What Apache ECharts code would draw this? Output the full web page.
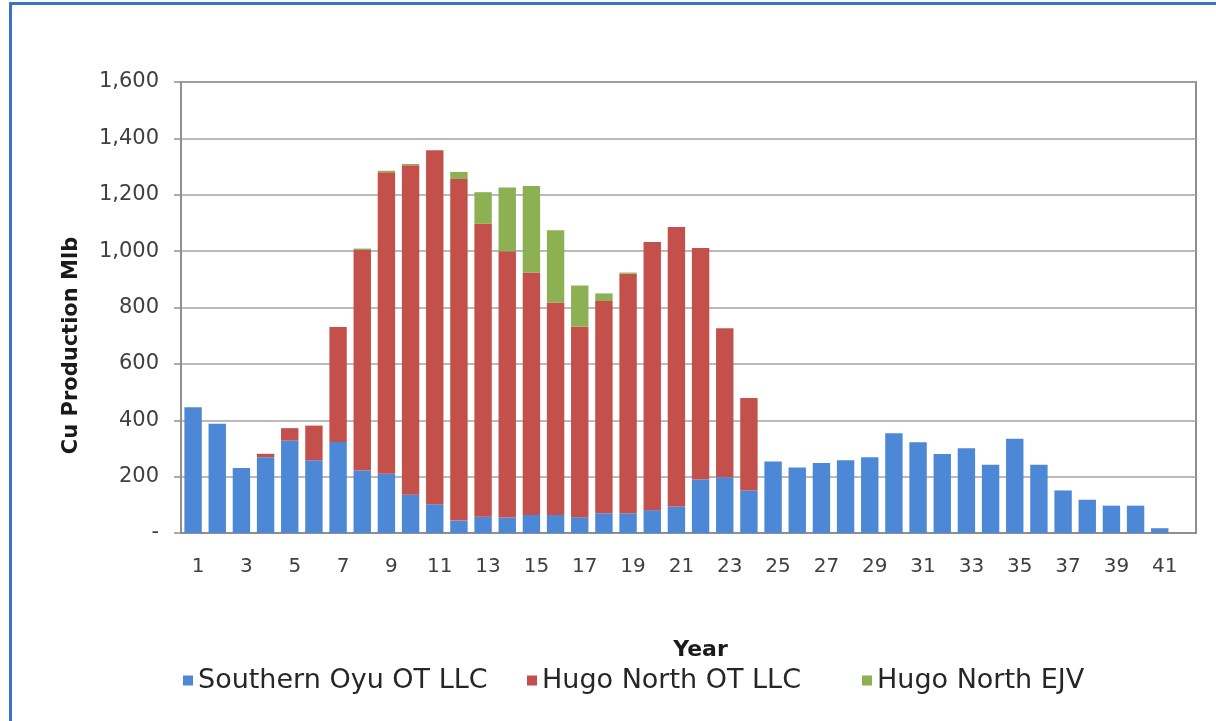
<!DOCTYPE html>
<html>
<head>
<meta charset="utf-8">
<title>Cu Production</title>
<script src="https://cdn.jsdelivr.net/npm/echarts@6/dist/echarts.min.js"></script>
<style>
  html, body { margin: 0; padding: 0; background: #fff; }
  #frame {
    position: absolute; left: 9px; top: 2px; width: 1300px; height: 800px;
    border-left: 3px solid #3a72c4; border-top: 3px solid #3a72c4;
  }
  #main { position: absolute; left: 0; top: 0; width: 1216px; height: 721px; }
</style>
</head>
<body>
<div id="frame"></div>
<div id="main"></div>
<script>
// years 1..41, plus one empty slot at the end of the axis
const years = []
for (let i = 1; i <= 42; i++) years.push(String(i))

const seriesNames = ['Southern Oyu OT LLC', 'Hugo North OT LLC', 'Hugo North EJV']

const southernOyu = [446, 388, 231, 269, 328, 258, 323, 222, 210, 136,
  102, 44, 58, 55, 64, 64, 56, 70, 70, 81,
  94, 190, 198, 151, 254, 232, 248, 258, 269, 354,
  322, 280, 301, 242, 334, 242, 151, 118, 97, 97,
  17, null]

const hugoNorthOT = [0, 0, 0, 12, 44, 123, 408, 782, 1070, 1169,
  1256, 1212, 1039, 945, 860, 754, 677, 753, 850, 951,
  992, 821, 528, 328, 0, 0, 0, 0, 0, 0,
  0, 0, 0, 0, 0, 0, 0, 0, 0, 0,
  0, null]

const hugoNorthEJV = [0, 0, 0, 0, 0, 0, 0, 5, 5, 4,
  0, 25, 112, 226, 307, 256, 145, 27, 4, 0,
  0, 0, 0, 0, 0, 0, 0, 0, 0, 0,
  0, 0, 0, 0, 0, 0, 0, 0, 0, 0,
  0, null]

const font = 'DejaVu Sans'
const legendLeft = [178, 522, 857]

const chartDom = document.getElementById('main')
const myChart = echarts.init(chartDom)
const option = {
  animation: false,
  grid: {
    left: 181,
    right: 20,
    top: 82,
    bottom: 188,
    show: true,
    borderColor: '#8f8f8f',
    borderWidth: 2
  },
  // Excel spaces the legend entries in fixed columns, so one legend per entry
  legend: seriesNames.map((n, i) => ({
    bottom: 22,
    left: legendLeft[i],
    itemWidth: 10,
    itemHeight: 10,
    itemGap: 5,
    icon: 'rect',
    textStyle: { fontFamily: font, fontSize: 27, color: '#262626' },
    data: [n]
  })),
  xAxis: {
    type: 'category',
    data: years,
    name: 'Year',
    nameLocation: 'middle',
    nameGap: 106,
    nameTextStyle: {
      fontFamily: font, fontSize: 22, fontWeight: 'bold', color: '#1a1a1a',
      padding: [0, 0, 0, 24]
    },
    axisLine: { lineStyle: { color: '#8f8f8f', width: 2 } },
    axisTick: { interval: 0, length: 7, lineStyle: { color: '#8f8f8f', width: 1.5 } },
    axisLabel: {
      interval: 1,
      margin: 24,
      fontFamily: font,
      fontSize: 20,
      color: '#404040',
      padding: [0, 0, 0, 10]
    }
  },
  yAxis: {
    type: 'value',
    min: 0,
    max: 1600,
    interval: 200,
    name: 'Cu Production Mlb',
    nameLocation: 'middle',
    nameGap: 99,
    nameTextStyle: {
      fontFamily: font, fontSize: 21, fontWeight: 'bold', color: '#1a1a1a',
      padding: [0, 76, 0, 0]
    },
    axisLine: { show: true, lineStyle: { color: '#8f8f8f', width: 2 } },
    axisTick: { show: true, length: 7, lineStyle: { color: '#8f8f8f', width: 1.5 } },
    splitLine: { lineStyle: { color: '#a3a3a3', width: 1.5 } },
    axisLabel: {
      margin: 22,
      fontFamily: font,
      fontSize: 21,
      color: '#404040',
      formatter: v => (v === 0 ? '-' : v.toLocaleString('en-US'))
    }
  },
  series: [
    {
      name: seriesNames[0],
      type: 'bar',
      stack: 'cu',
      barCategoryGap: '28%',
      itemStyle: { color: '#4d88d6' },
      data: southernOyu
    },
    {
      name: seriesNames[1],
      type: 'bar',
      stack: 'cu',
      itemStyle: { color: '#c4504c' },
      data: hugoNorthOT
    },
    {
      name: seriesNames[2],
      type: 'bar',
      stack: 'cu',
      itemStyle: { color: '#8db052' },
      data: hugoNorthEJV
    }
  ]
}
option && myChart.setOption(option)
</script>
</body>
</html>
